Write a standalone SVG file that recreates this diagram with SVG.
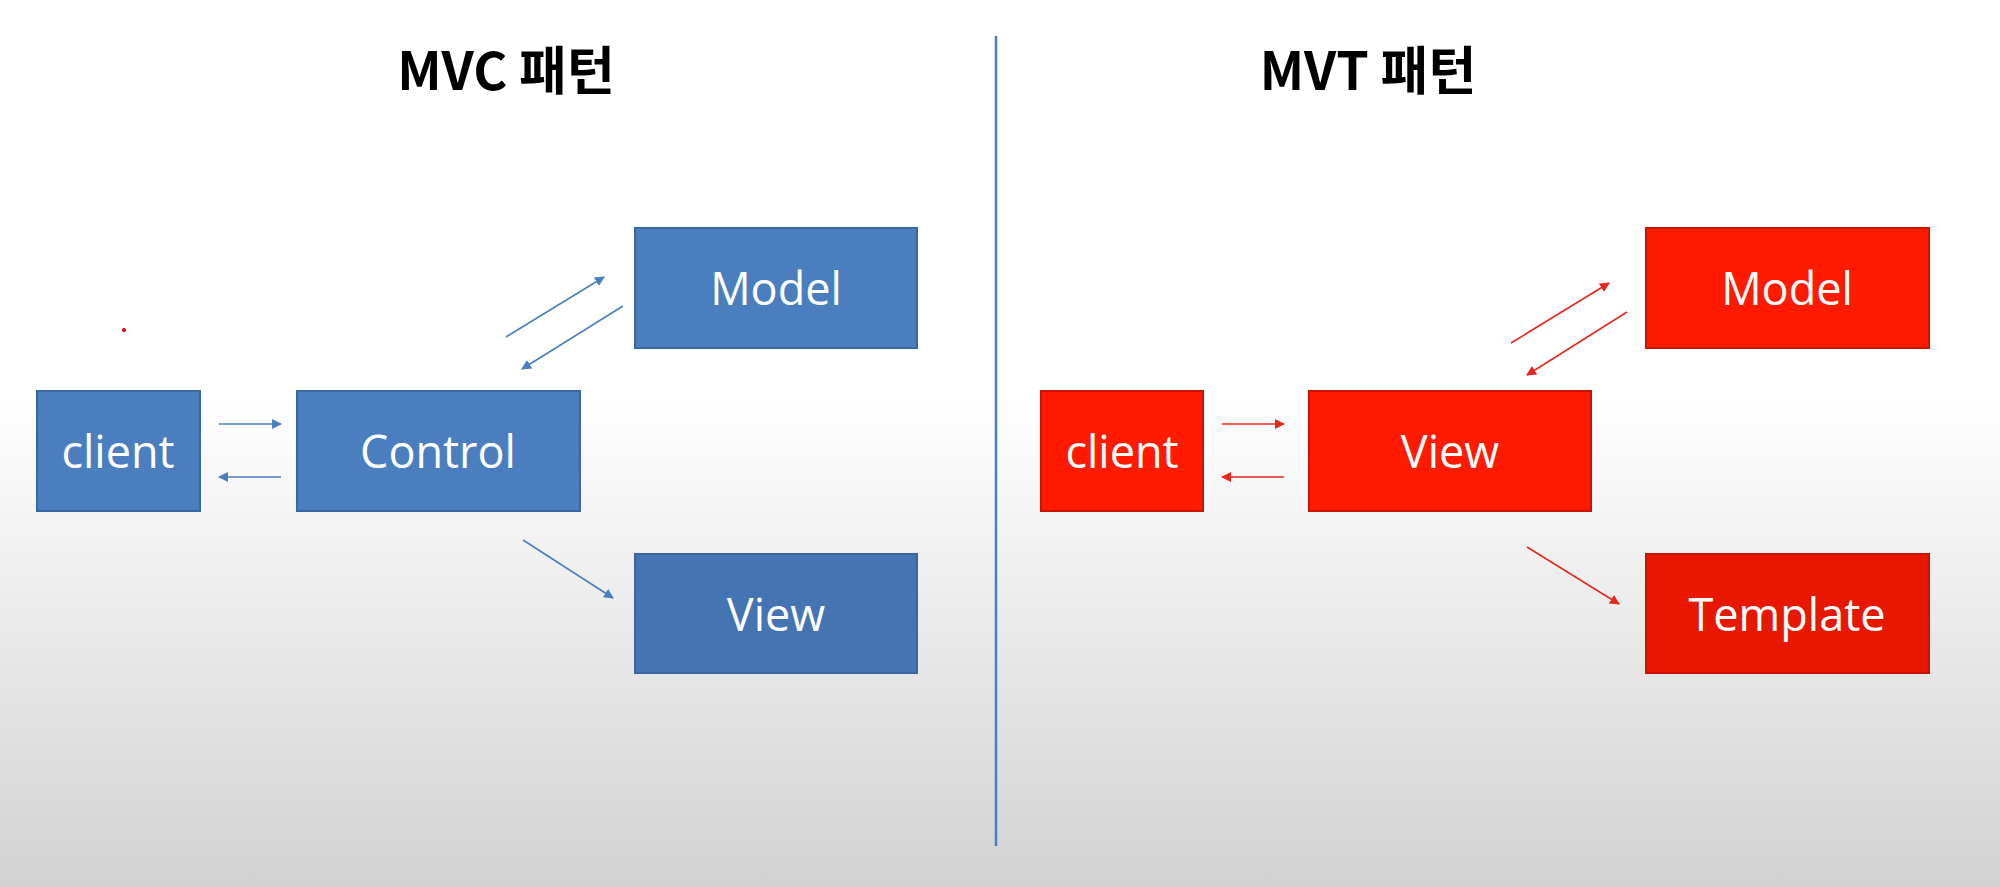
<svg xmlns="http://www.w3.org/2000/svg" width="2000" height="887" viewBox="0 0 2000 887">
<defs>
<linearGradient id="bg" x1="0" y1="0" x2="0" y2="1">
<stop offset="0" stop-color="#ffffff"/>
<stop offset="0.45" stop-color="#ffffff"/>
<stop offset="1" stop-color="#d2d2d2"/>
</linearGradient>
<marker id="ab" viewBox="0 0 10 10" refX="9" refY="5" markerWidth="10" markerHeight="10" markerUnits="userSpaceOnUse" orient="auto">
<path d="M0,0 L10,5 L0,10 z" fill="#4a7ebf"/>
</marker>
<marker id="ar" viewBox="0 0 10 10" refX="9" refY="5" markerWidth="10" markerHeight="10" markerUnits="userSpaceOnUse" orient="auto">
<path d="M0,0 L10,5 L0,10 z" fill="#e8281e"/>
</marker>
</defs>
<style>
.title{font-family:"Noto Sans CJK KR","Noto Sans",sans-serif;font-weight:bold;font-size:52px;fill:#000;text-anchor:middle}
.lbl{font-family:"Open Sans","Noto Sans",sans-serif;font-size:45px;fill:#ffffff;text-anchor:middle}
.blue{fill:#4a7ebf;stroke:#3a679f;stroke-width:2}
.red{fill:#ff1a00;stroke:#c81400;stroke-width:2}
.cb{stroke:#4a7ebf;stroke-width:1.6;fill:none;marker-end:url(#ab)}
.cr{stroke:#e8281e;stroke-width:1.6;fill:none;marker-end:url(#ar)}
</style>
<rect x="0" y="0" width="2000" height="887" fill="url(#bg)"/>
<text class="title" x="506" y="90">MVC 패턴</text>
<text class="title" x="1368" y="90">MVT 패턴</text>
<line x1="996" y1="36" x2="996" y2="846" stroke="#4a7ebf" stroke-width="2.5"/>
<circle cx="124" cy="330" r="2" fill="#e00000"/>
<g id="mvc-client"><rect class="blue" x="37" y="391" width="163" height="120"/><text class="lbl" x="118" y="468">client</text></g>
<g id="mvc-control"><rect class="blue" x="297" y="391" width="283" height="120"/><text class="lbl" x="438" y="468">Control</text></g>
<g id="mvc-model"><rect class="blue" x="635" y="228" width="282" height="120"/><text class="lbl" x="776" y="305">Model</text></g>
<g id="mvc-view"><rect class="blue" x="635" y="554" width="282" height="119" style="fill:#4574b3"/><text class="lbl" x="776" y="631">View</text></g>
<g id="mvt-client"><rect class="red" x="1041" y="391" width="162" height="120"/><text class="lbl" x="1122" y="468">client</text></g>
<g id="mvt-view"><rect class="red" x="1309" y="391" width="282" height="120"/><text class="lbl" x="1450" y="468">View</text></g>
<g id="mvt-model"><rect class="red" x="1646" y="228" width="283" height="120"/><text class="lbl" x="1787" y="305">Model</text></g>
<g id="mvt-template"><rect class="red" x="1646" y="554" width="283" height="119" style="fill:#e81800"/><text class="lbl" x="1787" y="631">Template</text></g>
<g id="connectors">
<line class="cb" x1="219" y1="424" x2="281" y2="424"/>
<line class="cb" x1="281" y1="477" x2="219" y2="477"/>
<line class="cb" x1="506" y1="337" x2="604" y2="277"/>
<line class="cb" x1="623" y1="306" x2="522" y2="369"/>
<line class="cb" x1="523" y1="540" x2="613" y2="598"/>
<line class="cr" x1="1222" y1="424" x2="1284" y2="424"/>
<line class="cr" x1="1284" y1="477" x2="1222" y2="477"/>
<line class="cr" x1="1511" y1="343" x2="1609" y2="283"/>
<line class="cr" x1="1627" y1="312" x2="1527" y2="375"/>
<line class="cr" x1="1527" y1="547" x2="1619" y2="604"/>
</g>
</svg>
